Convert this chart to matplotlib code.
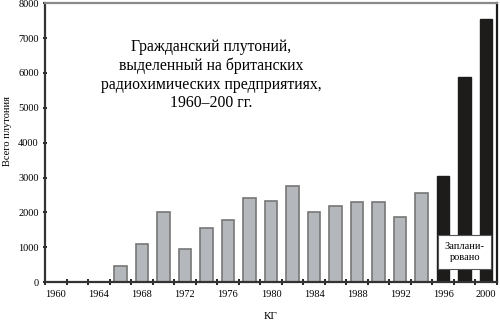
import numpy as np
import matplotlib
matplotlib.use("Agg")
import matplotlib.pyplot as plt

years = list(range(1960, 2001, 2))
values = [0, 0, 0, 450, 1090, 2000, 960, 1550, 1780, 2410, 2320, 2750,
          2000, 2180, 2300, 2300, 1860, 2550, 3040, 5870, 7560]
planned_from = 1996
tick_labels = [str(y) if (y - 1960) % 4 == 0 else "" for y in years]

plt.rcParams["font.family"] = ["Liberation Serif", "DejaVu Serif"]

fig = plt.figure(figsize=(5, 3.22), dpi=100)
ax = fig.add_axes([0.09, 0.124, 0.904, 0.866])

x = np.arange(len(years))
past = [i for i, y in enumerate(years) if y < planned_from]
future = [i for i, y in enumerate(years) if y >= planned_from]

ax.bar(x[past], [values[i] for i in past], width=0.58, color="#b4b7bb",
       edgecolor="#777777", linewidth=1.2)
ax.bar(x[future], [values[i] for i in future], width=0.58, color="#1e1b1b",
       edgecolor="#1e1b1b", linewidth=1)

ax.set_xlim(-0.5, len(years) - 0.5)
ax.set_ylim(0, 8000)
ax.set_yticks(range(0, 8001, 1000))
ax.set_xticks(x)
ax.set_xticklabels(tick_labels)
ax.set_xticks(np.arange(-0.5, len(years), 1), minor=True)
ax.tick_params(axis="x", which="major", length=0, labelsize=7.5, pad=6)
ax.tick_params(axis="x", which="minor", length=4, width=1.2, direction="inout")
ax.tick_params(axis="y", length=3, width=1.2, direction="inout", labelsize=7.5, pad=3)

for s in ["left", "bottom"]:
    ax.spines[s].set_linewidth(1.6)
    ax.spines[s].set_color("#333333")
ax.spines["top"].set_color("#8a8a8a")
ax.spines["top"].set_linewidth(1.6)
ax.spines["right"].set_color("#1e1b1b")
ax.spines["right"].set_linewidth(1.6)

ax.set_ylabel("Всего плутония", fontsize=7.5)
ax.yaxis.set_label_coords(-0.074, 0.54)
ax.set_xlabel("КГ", fontsize=8, labelpad=9)

ax.text(0.368, 0.87, "Гражданский плутоний,\nвыделенный на британских\n"
        "радиохимических предприятиях,\n1960–200 гг.", transform=ax.transAxes,
        ha="center", va="top", fontsize=11.3, linespacing=1.2)

ax.text(19.0, 860, "Заплани-\nровано", fontsize=7.5, ha="center", va="center",
        linespacing=1.3,
        bbox=dict(boxstyle="square,pad=0.65", facecolor="white", edgecolor="#555555",
                  linewidth=0.8))

fig.savefig("out.png", dpi=100)
